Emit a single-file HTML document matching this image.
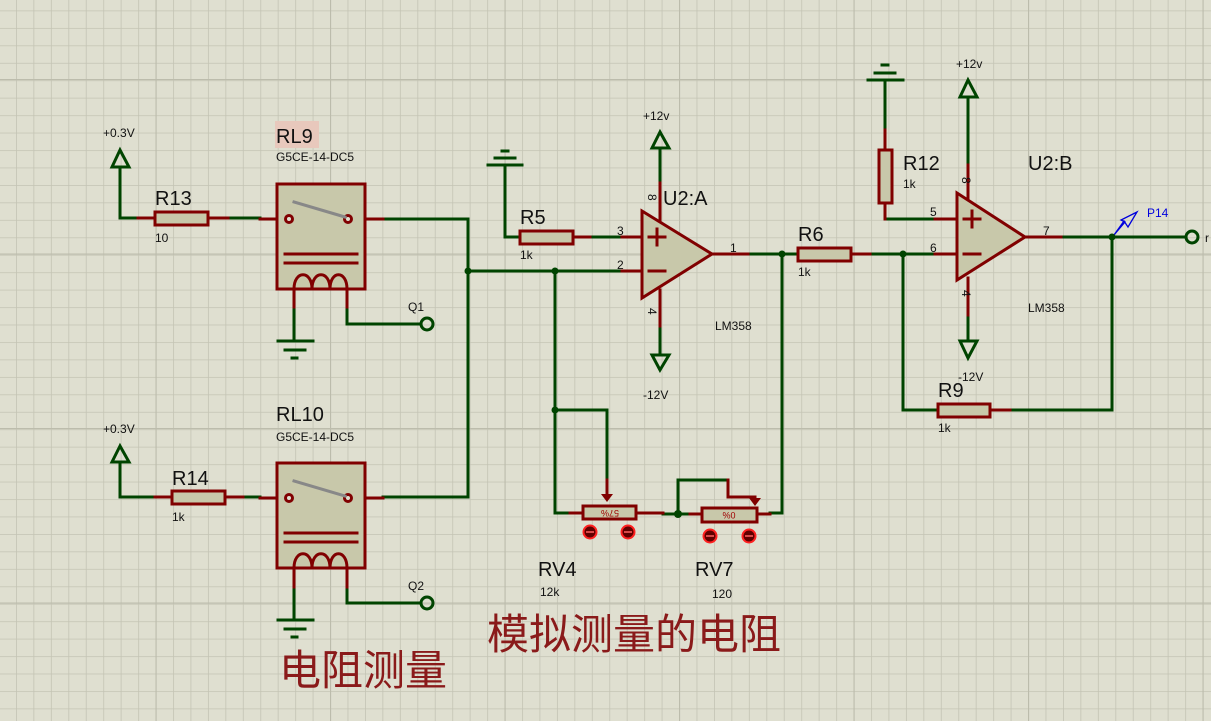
<!DOCTYPE html>
<html><head><meta charset="utf-8"><style>
html,body{margin:0;padding:0;background:#dfdfd0;}
svg{display:block;}
text{font-family:"Liberation Sans",sans-serif;fill:#111;}
</style></head><body>
<svg width="1211" height="721" viewBox="0 0 1211 721" xmlns="http://www.w3.org/2000/svg">
<defs>
<pattern id="g" x="16" y="10.5" width="17.45" height="17.45" patternUnits="userSpaceOnUse">
<path d="M0 0H17.45M0 0V17.45" stroke="#c4c4b4" stroke-width="1.6" fill="none"/>
</pattern>
<pattern id="G" x="155.5" y="79" width="174.5" height="174.5" patternUnits="userSpaceOnUse">
<path d="M0 0H174.5M0 0V174.5" stroke="#bcbcac" stroke-width="2.2" fill="none"/>
</pattern>
</defs>
<rect width="1211" height="721" fill="#dfdfd0"/>
<rect width="1211" height="721" fill="url(#g)"/>
<rect width="1211" height="721" fill="url(#G)"/>

<g fill="none" stroke-width="3" stroke-linecap="square">
<g stroke="#004400">
<path d="M120 167V218H138"/>
<path d="M228 218H260"/>
<path d="M383 219H468V497H383"/>
<path d="M468 271H622"/>
<path d="M294 307V341"/>
<path d="M347 307V324H420"/>
<path d="M120 462V497H155"/>
<path d="M243 497H260"/>
<path d="M294 587V620"/>
<path d="M347 587V603H420"/>
<path d="M505 165V237H520"/>
<path d="M590 237H622"/>
<path d="M555 271V513H570"/>
<path d="M555 410H607V480"/>
<path d="M660 148V183"/>
<path d="M660 326V355"/>
<path d="M748 254H798"/>
<path d="M782 254V513H770"/>
<path d="M663 514H690"/>
<path d="M678 514V480H728"/>
<path d="M870 254H935"/>
<path d="M903 254V410H938"/>
<path d="M1010 410H1112V237"/>
<path d="M1061 237H1184"/>
<path d="M885 80V130"/>
<path d="M885 219H935"/>
<path d="M968 97V165"/>
<path d="M968 315V340"/>
</g>
<g stroke="#800000">
<path d="M138 218H155M208 218H228"/>
<path d="M260 219H283M352 219H383"/>
<path d="M294 289V307M347 289V307"/>
<path d="M155 497H172M225 497H243"/>
<path d="M260 498H283M352 498H383"/>
<path d="M294 568V587M347 568V587"/>
<path d="M573 237H590"/>
<path d="M622 237H642M622 271H642"/>
<path d="M660 183V220M660 290V326"/>
<path d="M712 254H748"/>
<path d="M851 254H870"/>
<path d="M885 130V150M885 203V219"/>
<path d="M935 219H957M935 254H957"/>
<path d="M968 165V198M968 278V315"/>
<path d="M1025 237H1061"/>
<path d="M990 410H1010"/>
<path d="M570 513H583M636 513H663"/>
<path d="M690 514H702M757 514H770"/>
<path d="M607 480V495"/>
<path d="M728 480V497H755V502"/>
</g>
<g stroke="#800000" fill="#c8c8aa">
<rect x="155" y="212" width="53" height="13"/>
<rect x="172" y="491" width="53" height="13"/>
<rect x="520" y="231" width="53" height="13"/>
<rect x="798" y="248" width="53" height="13"/>
<rect x="938" y="404" width="52" height="13"/>
<rect x="879" y="150" width="13" height="53"/>
<rect x="583" y="506" width="53" height="13"/>
<rect x="702" y="508" width="55" height="14"/>
<rect x="277" y="184" width="88" height="105"/>
<rect x="277" y="463" width="88" height="105"/>
<path d="M642 211L712 254L642 298Z"/>
<path d="M957 193L1025 237L957 280Z"/>
</g>
<g stroke="#800000">
<path d="M285 254H357M285 263H357"/>
<path d="M294 289C294 270 312 270 312 289C312 270 330 270 330 289C330 270 347 270 347 289"/>
<circle cx="289" cy="219" r="3.5" fill="#dfdfd0"/>
<circle cx="348" cy="219" r="3.5" fill="#dfdfd0"/>
<path d="M285 533H357M285 542H357"/>
<path d="M294 568C294 549 312 549 312 568C312 549 330 549 330 568C330 549 347 549 347 568"/>
<circle cx="289" cy="498" r="3.5" fill="#dfdfd0"/>
<circle cx="348" cy="498" r="3.5" fill="#dfdfd0"/>
<path d="M649 237H665M657 229V245M649 271H665"/>
<path d="M964 219H980M972 211V227M964 254H980"/>
</g>
<g stroke="#888" stroke-width="3"><path d="M294 202L345 217M294 481L345 496"/></g>
<g stroke="#004400">
<path d="M120 150L112 167H129Z"/>
<path d="M120 446L112 462H129Z"/>
<path d="M660 132L652 148H669Z"/>
<path d="M660 370L652 355H669Z"/>
<path d="M968 80L960 97H977Z"/>
<path d="M968 358L960 341H977Z"/>
<path d="M278 341H313M285 350H305M292 358H297"/>
<path d="M278 620H313M285 629H305M292 637H297"/>
<path d="M488 165H522M495 158H515M502 151H508"/>
<path d="M868 80H903M875 73H895M882 65H888"/>
<circle cx="427" cy="324" r="6"/>
<circle cx="427" cy="603" r="6"/>
<circle cx="1192" cy="237" r="6"/>
</g>
<path d="M1114 235L1124 221L1128 227L1137 212L1121 220L1125 222Z" stroke="#0000dd" stroke-width="1.3"/>
</g>
<g fill="#800000">
<path d="M601 494H613L607 502Z"/>
<path d="M749 498H761L755 506Z"/>
<circle cx="468" cy="271" r="3.5" fill="#004400"/>
<circle cx="555" cy="271" r="3.5" fill="#004400"/>
<circle cx="555" cy="410" r="3.5" fill="#004400"/>
<circle cx="782" cy="254" r="3.5" fill="#004400"/>
<circle cx="678" cy="514" r="4" fill="#004400"/>
<circle cx="903" cy="254" r="3.5" fill="#004400"/>
<circle cx="1112" cy="237" r="3.5" fill="#004400"/>
</g>
<g fill="#600000" stroke="#ff2020" stroke-width="2">
<circle cx="590" cy="532" r="6.5"/><circle cx="628" cy="532" r="6.5"/>
<circle cx="710" cy="536" r="6.5"/><circle cx="749" cy="536" r="6.5"/>
</g>
<g stroke="#ff6060" stroke-width="1.5"><path d="M586 532H594M624 532H632M706 536H714M745 536H753"/></g>
<text x="610" y="516" font-size="9" text-anchor="middle" style="fill:#a00000" transform="rotate(180 610 513)">57%</text>
<text x="729" y="518" font-size="9" text-anchor="middle" style="fill:#a00000" transform="rotate(180 729 515)">0%</text>

<rect x="275" y="121" width="44" height="27" fill="#e8c8bc"/>
<g font-size="20">
<text x="155" y="205">R13</text><text x="276" y="143">RL9</text>
<text x="276" y="421">RL10</text><text x="172" y="485">R14</text>
<text x="520" y="224">R5</text><text x="663" y="205">U2:A</text>
<text x="798" y="241">R6</text><text x="903" y="170">R12</text>
<text x="1028" y="170">U2:B</text><text x="938" y="397">R9</text>
<text x="538" y="576">RV4</text><text x="695" y="576">RV7</text>
</g>
<g font-size="12">
<text x="103" y="137">+0.3V</text><text x="103" y="433">+0.3V</text>
<text x="276" y="161">G5CE-14-DC5</text><text x="276" y="441">G5CE-14-DC5</text>
<text x="155" y="242">10</text><text x="172" y="521">1k</text>
<text x="520" y="259">1k</text><text x="798" y="276">1k</text>
<text x="903" y="188">1k</text><text x="938" y="432">1k</text>
<text x="408" y="311">Q1</text><text x="408" y="590">Q2</text>
<text x="643" y="120">+12v</text><text x="643" y="399">-12V</text>
<text x="956" y="68">+12v</text><text x="958" y="381">-12V</text>
<text x="715" y="330">LM358</text><text x="1028" y="312">LM358</text>
<text x="540" y="596">12k</text><text x="712" y="598">120</text>
<text x="617" y="235">3</text><text x="617" y="269">2</text>
<text x="730" y="252">1</text><text x="930" y="216">5</text>
<text x="930" y="252">6</text><text x="1043" y="235">7</text>
<text x="1147" y="217" style="fill:#0000dd">P14</text>
<text x="1205" y="242">r</text>
<text x="648" y="202" transform="rotate(90 652 198)">8</text>
<text x="648" y="316" transform="rotate(90 652 312)">4</text>
<text x="962" y="185" transform="rotate(90 966 181)">8</text>
<text x="962" y="298" transform="rotate(90 966 294)">4</text>
</g>
<text x="487" y="649" font-size="42" style="fill:#8a1a1a;font-family:'Liberation Sans','Noto Sans CJK SC',sans-serif">模拟测量的电阻</text>
<text x="279" y="685" font-size="42" style="fill:#8a1a1a;font-family:'Liberation Sans','Noto Sans CJK SC',sans-serif">电阻测量</text>
</svg>
</body></html>
